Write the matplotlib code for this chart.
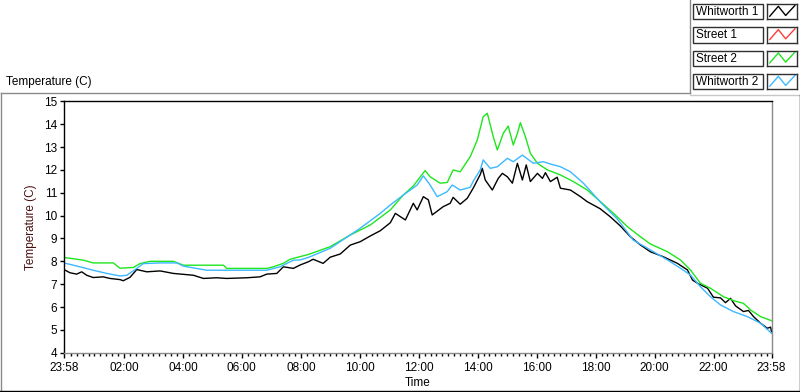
import matplotlib
matplotlib.use("Agg")
import matplotlib.pyplot as plt
from matplotlib.lines import Line2D
from matplotlib.patches import Rectangle

W, H = 800, 392

# hours since 23:58 (start of log)
whit1_t = [0.00, 0.20, 0.43, 0.60, 0.77, 0.99, 1.33, 1.56, 1.90, 2.01,
           2.24, 2.47, 2.81, 3.26, 3.71, 4.39, 4.73, 5.18, 5.52, 6.20,
           6.65, 6.88, 7.22, 7.44, 7.78, 8.01, 8.29, 8.45, 8.79, 9.03,
           9.37, 9.71, 10.05, 10.39, 10.73, 11.07, 11.24, 11.58, 11.85, 11.98,
           12.19, 12.36, 12.49, 12.86, 13.10, 13.20, 13.44, 13.68, 13.88, 14.12,
           14.19, 14.29, 14.53, 14.73, 14.87, 15.04, 15.21, 15.38, 15.55, 15.68,
           15.82, 16.06, 16.23, 16.33, 16.50, 16.73, 16.84, 17.18, 17.52, 17.75,
           18.19, 18.53, 18.87, 19.21, 19.55, 19.89, 20.33, 20.81, 21.15, 21.32,
           21.49, 21.83, 22.03, 22.27, 22.44, 22.61, 22.78, 23.05, 23.22, 23.39,
           23.63, 23.86, 23.97, 24.00]
whit1_v = [7.64, 7.50, 7.44, 7.54, 7.39, 7.29, 7.32, 7.25, 7.20, 7.15,
           7.30, 7.64, 7.54, 7.58, 7.47, 7.39, 7.25, 7.28, 7.25, 7.28,
           7.32, 7.44, 7.47, 7.76, 7.69, 7.84, 7.98, 8.09, 7.91, 8.18,
           8.32, 8.71, 8.86, 9.11, 9.34, 9.69, 10.10, 9.81, 10.54, 10.25,
           10.83, 10.69, 10.03, 10.39, 10.54, 10.80, 10.50, 10.76, 11.20, 11.80,
           12.07, 11.56, 11.12, 11.63, 11.85, 11.70, 11.42, 12.29, 11.56, 12.22,
           11.49, 11.85, 11.63, 11.88, 11.49, 11.68, 11.20, 11.12, 10.83, 10.61,
           10.30, 9.95, 9.55, 9.08, 8.72, 8.42, 8.20, 7.91, 7.62, 7.18,
           7.04, 6.82, 6.43, 6.40, 6.19, 6.38, 6.05, 5.80, 5.85, 5.58,
           5.29, 5.07, 5.12, 4.92]

# Street 1 logged nothing on this day
street1_t = []
street1_v = []

street2_t = [0.00, 0.66, 0.99, 1.67, 1.90, 2.35, 2.58, 2.92, 3.71, 4.05,
             5.41, 5.52, 6.88, 7.10, 7.44, 7.67, 8.29, 9.03, 9.71, 10.39,
             11.07, 11.51, 11.85, 12.25, 12.42, 12.76, 13.00, 13.20, 13.44, 13.78,
             14.02, 14.22, 14.36, 14.56, 14.70, 14.90, 15.07, 15.24, 15.38, 15.48,
             15.65, 15.82, 16.06, 16.40, 16.84, 17.28, 17.75, 18.19, 18.64, 19.11,
             19.55, 19.89, 20.47, 20.91, 21.25, 21.59, 21.93, 22.37, 22.71, 23.05,
             23.29, 23.63, 24.00]
street2_v = [8.17, 8.05, 7.93, 7.93, 7.70, 7.73, 7.90, 8.00, 8.00, 7.83,
             7.83, 7.69, 7.69, 7.76, 7.91, 8.09, 8.30, 8.64, 9.15, 9.59,
             10.25, 10.90, 11.30, 11.97, 11.70, 11.42, 11.45, 12.00, 11.92, 12.58,
             13.31, 14.33, 14.48, 13.46, 12.87, 13.60, 13.92, 13.09, 13.60, 14.07,
             13.46, 12.73, 12.29, 12.00, 11.78, 11.49, 11.12, 10.62, 10.10, 9.52,
             9.08, 8.76, 8.42, 8.06, 7.62, 7.04, 6.82, 6.45, 6.28, 6.16,
             5.87, 5.58, 5.40]

whit2_t = [0.00, 0.54, 0.99, 1.45, 1.90, 2.13, 2.47, 2.69, 3.26, 3.83,
           4.05, 4.84, 5.52, 6.88, 7.33, 7.78, 8.01, 8.29, 9.03, 10.05,
           10.73, 11.07, 11.51, 11.98, 12.19, 12.42, 12.66, 13.00, 13.17, 13.44,
           13.78, 13.88, 14.12, 14.22, 14.46, 14.70, 15.04, 15.24, 15.55, 15.92,
           16.26, 16.50, 16.84, 17.18, 17.62, 18.19, 18.77, 19.31, 19.89, 20.47,
           20.91, 21.25, 21.59, 21.93, 22.27, 22.71, 23.18, 23.63, 24.00]
whit2_v = [7.93, 7.76, 7.61, 7.47, 7.36, 7.39, 7.69, 7.90, 7.93, 7.93,
           7.79, 7.61, 7.61, 7.61, 7.76, 8.05, 8.06, 8.17, 8.57, 9.45,
           10.10, 10.47, 10.90, 11.34, 11.74, 11.34, 10.83, 11.05, 11.34, 11.12,
           11.24, 11.50, 12.00, 12.44, 12.07, 12.14, 12.51, 12.36, 12.65, 12.29,
           12.36, 12.26, 12.14, 11.92, 11.42, 10.60, 9.85, 8.93, 8.50, 8.06,
           7.70, 7.40, 6.89, 6.45, 6.09, 5.80, 5.58, 5.29, 4.85]

names = ["Whitworth 1", "Street 1", "Street 2", "Whitworth 2"]
colors = ["#000000", "#ff3c3c", "#1ee61e", "#3cb8ff"]

hour_labels = ["23:58"] + [f"{h:02d}:00" for h in range(2, 24, 2)] + ["23:58"]
y_ticks = list(range(4, 16))

FONT = ["Liberation Sans", "DejaVu Sans"]
FS = 8.5


def fx(px):
    return px / W


def fy(py):
    return 1 - py / H


fig = plt.figure(figsize=(W / 100, H / 100), dpi=100)

# ── panel frame ─────────────────────────────────────────────────────────────
def fline(xs, ys, color, lw=1.0):
    fig.add_artist(Line2D([fx(x) for x in xs], [fy(y) for y in ys],
                          transform=fig.transFigure, color=color, lw=lw))

fline([0.5, 689.5], [92.5, 92.5], "#8a8a8a")
fline([1, 1], [92.5, 391], "#8a8a8a")
fline([689.5, 689.5], [0, 92.5], "#8a8a8a")
fline([689.5, 800], [95, 95], "#c8c8c8")
fline([0, 799.5], [391, 391], "#000000")
fline([799.5, 799.5], [95, 391], "#000000")

fig.text(fx(6), fy(82), "Temperature (C)", fontsize=FS, family=FONT,
         va="center", ha="left")

# ── plot area ───────────────────────────────────────────────────────────────
left, right, top, bottom = 64, 771.5, 101.4, 352.7
ax = fig.add_axes([fx(left), fy(bottom), fx(right) - fx(left), fy(top) - fy(bottom)])

series = [(whit1_t, whit1_v), (street1_t, street1_v),
          (street2_t, street2_v), (whit2_t, whit2_v)]
for (t, v), c in zip(series, colors):
    ax.plot(t, v, color=c, lw=1.0)

ax.set_xlim(0, 24)
ax.set_ylim(4, 15)

for s in ["top", "left"]:
    ax.spines[s].set_color("#000000")
for s in ["right", "bottom"]:
    ax.spines[s].set_color("#8a8a8a")
for s in ax.spines.values():
    s.set_linewidth(1.0)

off = 2 / 60  # first sample at 23:58
major = [0] + [off + h for h in range(2, 24, 2)] + [24]
minor = [off + 0.2 * k for k in range(120) if k % 10 != 0]
ax.set_xticks(major)
ax.set_xticklabels(hour_labels)
ax.set_xticks(minor, minor=True)
ax.set_yticks(y_ticks)
ax.set_yticklabels([str(y) for y in y_ticks])

ax.tick_params(axis="x", which="major", direction="out", length=3.5, width=1,
               pad=3, labelsize=FS, colors="#000000")
ax.tick_params(axis="x", which="minor", direction="out", length=2, width=1,
               colors="#000000")
ax.tick_params(axis="y", which="major", direction="out", length=3, width=1,
               pad=2, labelsize=FS, colors="#000000")
for lab in ax.get_xticklabels() + ax.get_yticklabels():
    lab.set_family(FONT)

ax.set_xlabel("Time", fontsize=FS, family=FONT, labelpad=2)
ax.set_ylabel("Temperature (C)", fontsize=FS, family=FONT, color="#4a1010",
              labelpad=5)

# ── legend (top right) ──────────────────────────────────────────────────────
zig_x = [0.1, 0.38, 0.62, 0.92]
zig_y = [0.2, 0.85, 0.25, 0.9]
row_h = 15.3
for i, (name, c) in enumerate(zip(names, colors)):
    y0 = 4 + i * 23.33
    fig.add_artist(Rectangle((fx(692.7), fy(y0 + row_h)), 70 / W, row_h / H,
                             transform=fig.transFigure, facecolor="white",
                             edgecolor="#303030", lw=1.0))
    fig.text(fx(695.5), fy(y0 + row_h / 2 + 0.5), name, fontsize=FS, family=FONT,
             va="center", ha="left")
    sax = fig.add_axes([fx(766.7), fy(y0 + row_h), 30.6 / W, row_h / H])
    sax.plot(zig_x, zig_y, color=c, lw=1.0)
    sax.set_xlim(0, 1)
    sax.set_ylim(0, 1)
    sax.set_xticks([])
    sax.set_yticks([])
    for s in sax.spines.values():
        s.set_color("#303030")
        s.set_linewidth(1.0)

fig.savefig("out.png", dpi=100)
